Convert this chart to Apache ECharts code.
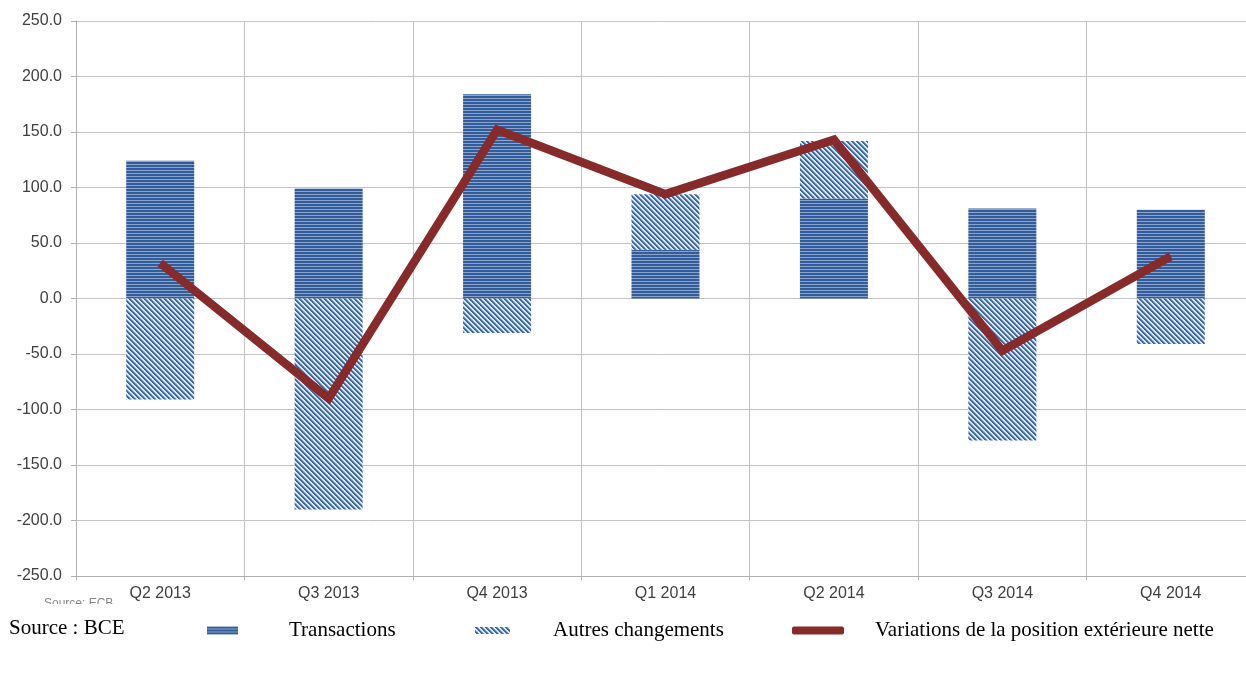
<!DOCTYPE html>
<html><head><meta charset="utf-8">
<script src="https://cdn.jsdelivr.net/npm/echarts@6/dist/echarts.min.js"></script>
<style>html,body{margin:0;padding:0;background:#fff;overflow:hidden}#c{width:1246px;height:697px}</style>
</head><body><div id="c"></div>
<script>
const categories = ['Q2 2013','Q3 2013','Q4 2013','Q1 2014','Q2 2014','Q3 2014','Q4 2014'];
const transactions = [124, 99, 184, 44, 90, 81, 80];
const autresChangements = [-91, -190, -31, 50, 52, -128, -41];
const variationsPEN = [32, -90, 152, 94, 143, -47, 38];
const yTicks = { min: -250, max: 250, interval: 50 };

function hPattern(){
  const c = document.createElement('canvas'); c.width = 4; c.height = 3;
  const g = c.getContext('2d');
  g.fillStyle = '#335c98'; g.fillRect(0,0,4,3);
  g.fillStyle = '#88a5cf'; g.fillRect(0,2,4,1);
  return c;
}
function dPattern(){
  const s = 10, p = 5;
  const c = document.createElement('canvas'); c.width = s; c.height = s;
  const g = c.getContext('2d');
  const img = g.createImageData(s, s);
  const dk = [60, 105, 172], lt = [222, 233, 247];
  for (let y = 0; y < s; y++) for (let x = 0; x < s; x++) {
    const m = (((x - y) % p) + p) % p;
    const t = m < 2 ? 1 : (m === 2 ? 0.6 : 0);
    const i = (y * s + x) * 4;
    for (let k = 0; k < 3; k++) img.data[i+k] = Math.round(dk[k]*t + lt[k]*(1-t));
    img.data[i+3] = 255;
  }
  g.putImageData(img, 0, 0);
  return c;
}
const hFill = { image: hPattern(), repeat: 'repeat' };
const dFill = { image: dPattern(), repeat: 'repeat' };

const chart = echarts.init(document.getElementById('c'));
const legendText = { fontFamily: 'Liberation Serif', fontSize: 21, color: '#000' };
chart.setOption({
  animation: false,
  grid: { left: 76, width: 1179, top: 21, bottom: 121, containLabel: false, outerBoundsMode: 'none' },
  xAxis: {
    type: 'category', data: categories, boundaryGap: true,
    axisLine: { onZero: false, lineStyle: { color: '#b0b0b0' } },
    axisTick: { show: true, length: 4, lineStyle: { color: '#b0b0b0' } },
    splitLine: { show: true, lineStyle: { color: '#c4c4c4', width: 1 } },
    axisLabel: { margin: 10, fontFamily: 'Liberation Sans', fontSize: 16, color: '#404040' }
  },
  yAxis: {
    type: 'value', min: yTicks.min, max: yTicks.max, interval: yTicks.interval,
    axisLine: { show: true, lineStyle: { color: '#b0b0b0' } },
    axisTick: { show: true, length: 5, lineStyle: { color: '#b0b0b0' } },
    splitLine: { show: true, lineStyle: { color: '#c4c4c4', width: 1 } },
    axisLabel: { margin: 14, fontFamily: 'Liberation Sans', fontSize: 16, color: '#404040',
      formatter: v => v.toFixed(1) }
  },
  legend: [
    { data: ['Transactions'], left: 202, top: 615, itemWidth: 31, itemHeight: 8, icon: 'rect',
      textStyle: Object.assign({ padding: [0,0,0,46] }, legendText) },
    { data: ['Autres changements'], left: 470, top: 615, itemWidth: 35, itemHeight: 7, icon: 'rect',
      textStyle: Object.assign({ padding: [0,0,0,38] }, legendText) },
    { data: ['Variations de la position extérieure nette'], left: 787, top: 615, itemWidth: 52, itemHeight: 8,
      icon: 'roundRect', textStyle: Object.assign({ padding: [0,0,0,26] }, legendText) }
  ],
  graphic: [
    { type: 'text', left: 44, top: 598, z: 1, style: { text: 'Source: ECB', font: '12px "Liberation Sans"', fill: '#888' } },
    { type: 'rect', left: 40, top: 604, z: 2, shape: { width: 80, height: 10 }, style: { fill: '#fff' } },
    { type: 'text', left: 9, top: 618, style: { text: 'Source : BCE', font: '21px "Liberation Serif"', fill: '#000' } }
  ],
  series: [
    { name: 'Transactions', type: 'bar', stack: 'tot', barWidth: 68, data: transactions,
      itemStyle: { color: hFill } },
    { name: 'Autres changements', type: 'bar', stack: 'tot', barWidth: 68, data: autresChangements,
      itemStyle: { color: dFill } },
    { name: 'Variations de la position extérieure nette', type: 'line', data: variationsPEN,
      symbol: 'none', z: 5,
      lineStyle: { color: '#862a2a', width: 8.5, cap: 'butt', join: 'miter' },
      itemStyle: { color: '#862a2a' } }
  ]
});
</script></body></html>
